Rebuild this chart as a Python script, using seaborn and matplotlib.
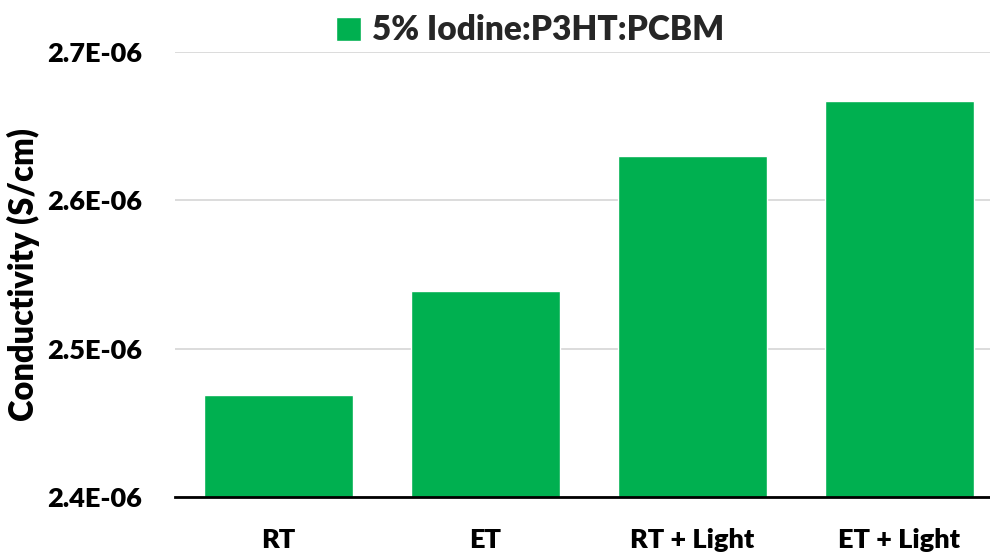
import matplotlib
matplotlib.use("Agg")
import matplotlib.pyplot as plt
import seaborn as sns
import pandas as pd
from matplotlib.ticker import FormatStrFormatter

categories = ["RT", "ET", "RT + Light", "ET + Light"]
conductivity = [2.469e-06, 2.539e-06, 2.630e-06, 2.667e-06]
series_name = "5% Iodine:P3HT:PCBM"
y_ticks = [2.4e-06, 2.5e-06, 2.6e-06, 2.7e-06]

df = pd.DataFrame({"cat": categories, "val": conductivity, "series": [series_name] * len(categories)})

sns.set_theme(style="white")
plt.rcParams["font.family"] = ["Lato", "DejaVu Sans"]
W = "heavy"
plt.rcParams["font.weight"] = W

fig = plt.figure(figsize=(9.9, 5.55), dpi=100)
ax = fig.add_axes([175 / 990, 58 / 555, 828 / 990, 445 / 555])

sns.barplot(data=df, x="cat", y="val", hue="series", palette=["#00B050"],
            width=0.72, dodge=False, ax=ax, saturation=1, legend=True)

ax.set_ylim(2.4e-06, 2.7e-06)
ax.set_yticks(y_ticks)
ax.yaxis.set_major_formatter(FormatStrFormatter("%.1E"))
ax.set_axisbelow(True)
ax.grid(axis="y", color="#D9D9D9", linewidth=1.3)
ax.grid(axis="x", visible=False)
for s in ["top", "right", "left"]:
    ax.spines[s].set_visible(False)
ax.spines["bottom"].set_color("black")
ax.spines["bottom"].set_linewidth(2)
ax.tick_params(axis="both", length=0, labelsize=19.5, colors="black")
ax.tick_params(axis="y", pad=24)
ax.tick_params(axis="x", pad=22)
for lbl in ax.get_xticklabels() + ax.get_yticklabels():
    lbl.set_fontweight(W)
ax.set_xlabel("")
ax.set_ylabel("Conductivity (S/cm)", fontsize=23.5, fontweight=W, color="black", labelpad=5)

leg = ax.legend(loc="upper center", bbox_to_anchor=(530 / 990, 1.01), bbox_transform=fig.transFigure,
                frameon=False, prop={"size": 24, "weight": W}, handlelength=0.75, handleheight=0.75,
                handletextpad=0.35, borderaxespad=0.2)

fig.savefig("out.png", dpi=100)
